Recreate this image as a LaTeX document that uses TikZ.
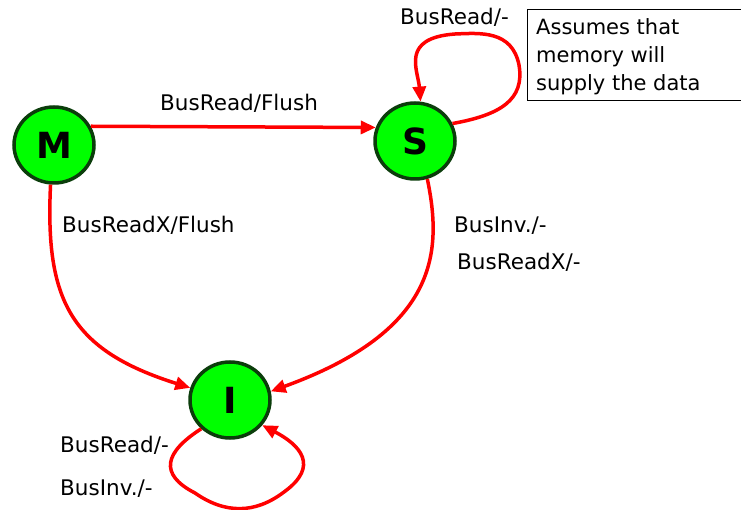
\documentclass[tikz,border=0pt]{standalone}
\usepackage{fontspec}
\setmainfont{DejaVu Sans}
\usepackage{tikz}
\usetikzlibrary{arrows.meta}
\usetikzlibrary{shapes}

\definecolor{stategreen}{HTML}{00FF00}
\definecolor{stateedge}{HTML}{0B3D0B}
\tikzset{
  state/.style={ellipse, draw=stateedge, line width=3.5pt, fill=stategreen,
    minimum width=80pt, minimum height=76pt, inner sep=0pt,
    font=\fontsize{36}{40}\selectfont\bfseries},
  trans/.style={red, line width=3.5pt,
    -{Triangle[length=15pt,width=13pt]}},
  lbl/.style={font=\fontsize{21.5}{25}\selectfont, inner sep=0pt, anchor=west}
}

\begin{document}
\begin{tikzpicture}[x=1pt, y=-1pt]
              \useasboundingbox (0, 0) rectangle (741, 510);
              \node[state] (M) at (54, 145) {M};
              \node[state] (S) at (415, 141) {S};
              \node[state] (I) at (230, 400) {I};
              % note box, its right side runs off the page
              \node[draw, line width=1pt, anchor=north west, minimum width=216pt,
                    minimum height=91pt, inner sep=0pt] (note) at (527, 9) {};
              \node[lbl, align=left, font=\fontsize{21}{28}\selectfont,
                    anchor=north west] (notetext) at (536, 18)
                    {Assumes that\\memory will\\supply the data};
              % transitions
              \draw[trans] (M.27) -- (S.161);
              \draw[trans] (S.25) .. controls (500, 115) and (525, 100) .. (519, 65)
                           .. controls (512, 30) and (480, 33) .. (455, 34)
                           .. controls (400, 38) and (418, 70) .. (S.82);
              \draw[trans] (M.265) .. controls (45, 300) and (70, 350) .. (I.163);
              \draw[trans] (S.-72) .. controls (442, 250) and (440, 330) .. (I.12);
              \draw[trans] (I.225) .. controls (165, 452) and (158, 474) .. (195, 493)
                           .. controls (225, 514) and (255, 514) .. (284, 492)
                           .. controls (320, 466) and (300, 445) .. (I.-38);
              % transition labels
              \node[lbl] (mslbl) at (160, 103) {BusRead/Flush};
              \node[lbl] (sslbl) at (400, 17) {BusRead/-};
              \node[lbl] (milbl) at (62, 225) {BusReadX/Flush};
              \node[lbl] (silbla) at (454, 226) {BusInv./-};
              \node[lbl] (silblb) at (457, 262) {BusReadX/-};
              \node[lbl] (iilbla) at (60, 445) {BusRead/-};
              \node[lbl] (iilblb) at (60, 489) {BusInv./-};
            \end{tikzpicture}
\end{document}
